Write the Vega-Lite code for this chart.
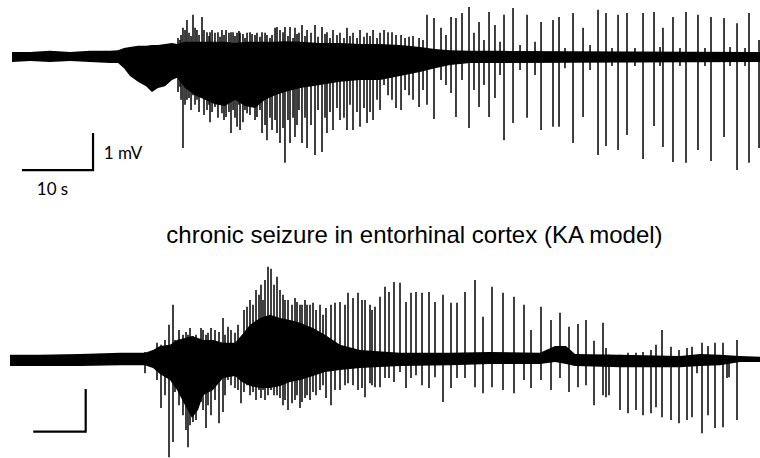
{
  "$schema": "https://vega.github.io/schema/vega-lite/v6.json",
  "background": "white",
  "padding": 0,
  "spacing": 0,
  "config": {"view": {"stroke": null}},
  "datasets": {
    "topEnv": [
      {"t":1.71,"hi":0.14,"lo":-0.14},{"t":4.29,"hi":0.14,"lo":-0.11},{"t":7.14,"hi":0.17,"lo":-0.14},{"t":10.0,"hi":0.14,"lo":-0.11},
      {"t":12.86,"hi":0.17,"lo":-0.14},{"t":15.71,"hi":0.17,"lo":-0.17},{"t":16.86,"hi":0.19,"lo":-0.17},{"t":17.71,"hi":0.25,"lo":-0.31},
      {"t":18.57,"hi":0.28,"lo":-0.53},{"t":19.71,"hi":0.31,"lo":-0.69},{"t":20.86,"hi":0.31,"lo":-0.81},{"t":21.71,"hi":0.33,"lo":-0.97},
      {"t":22.57,"hi":0.33,"lo":-0.86},{"t":23.57,"hi":0.36,"lo":-0.81},{"t":24.57,"hi":0.39,"lo":-0.64},{"t":25.29,"hi":0.36,"lo":-0.58},
      {"t":26.43,"hi":0.42,"lo":-0.86},{"t":27.86,"hi":0.42,"lo":-1.06},{"t":29.29,"hi":0.42,"lo":-1.19},{"t":30.71,"hi":0.42,"lo":-1.31},
      {"t":32.14,"hi":0.42,"lo":-1.36},{"t":33.57,"hi":0.39,"lo":-1.19},{"t":35.0,"hi":0.42,"lo":-1.36},{"t":36.43,"hi":0.42,"lo":-1.42},
      {"t":37.86,"hi":0.42,"lo":-1.19},{"t":39.29,"hi":0.42,"lo":-1.06},{"t":40.71,"hi":0.44,"lo":-0.97},{"t":42.86,"hi":0.42,"lo":-0.86},
      {"t":45.71,"hi":0.39,"lo":-0.78},{"t":48.57,"hi":0.39,"lo":-0.69},{"t":51.43,"hi":0.36,"lo":-0.64},{"t":54.29,"hi":0.36,"lo":-0.64},
      {"t":57.14,"hi":0.33,"lo":-0.53},{"t":60.0,"hi":0.28,"lo":-0.42},{"t":62.14,"hi":0.22,"lo":-0.31},{"t":64.29,"hi":0.19,"lo":-0.22},
      {"t":67.14,"hi":0.17,"lo":-0.17},{"t":71.43,"hi":0.17,"lo":-0.17},{"t":108.57,"hi":0.14,"lo":-0.14}
    ],
    "topSpk": [
      {"t":25.43,"hi":0.53,"lo":-0.97},{"t":25.86,"hi":0.61,"lo":-1.19},{"t":26.43,"hi":0.75,"lo":-1.33},{"t":27.0,"hi":0.67,"lo":-1.14},
      {"t":27.29,"hi":0.58,"lo":-1.47},{"t":27.86,"hi":0.81,"lo":-1.33},{"t":28.43,"hi":0.61,"lo":-1.53},{"t":29.14,"hi":0.75,"lo":-1.61},
      {"t":29.86,"hi":0.58,"lo":-1.33},{"t":30.29,"hi":0.75,"lo":-1.53},{"t":31.14,"hi":0.69,"lo":-1.69},{"t":31.43,"hi":0.56,"lo":-1.33},
      {"t":32.0,"hi":0.61,"lo":-1.75},{"t":32.71,"hi":0.67,"lo":-1.53},{"t":33.57,"hi":0.58,"lo":-1.69},{"t":34.14,"hi":0.72,"lo":-1.33},
      {"t":34.71,"hi":0.64,"lo":-1.81},{"t":35.0,"hi":0.53,"lo":-1.47},{"t":35.71,"hi":0.69,"lo":-1.61},{"t":36.43,"hi":0.61,"lo":-1.75},
      {"t":37.14,"hi":0.56,"lo":-1.47},{"t":37.86,"hi":0.67,"lo":-1.89},{"t":38.57,"hi":0.53,"lo":-1.69},{"t":40.43,"hi":0.69,"lo":-1.97},
      {"t":41.14,"hi":0.58,"lo":-1.75},{"t":41.86,"hi":0.53,"lo":-1.69},{"t":42.43,"hi":0.64,"lo":-1.89},{"t":43.57,"hi":0.58,"lo":-1.69},
      {"t":44.43,"hi":0.67,"lo":-1.89},{"t":45.43,"hi":0.56,"lo":-1.47},{"t":46.43,"hi":0.64,"lo":-1.69},{"t":47.14,"hi":0.53,"lo":-1.53},
      {"t":48.14,"hi":0.61,"lo":-1.42},{"t":49.14,"hi":0.53,"lo":-1.69},{"t":50.0,"hi":0.58,"lo":-1.33},{"t":51.0,"hi":0.53,"lo":-1.53},
      {"t":52.0,"hi":0.56,"lo":-1.42},{"t":52.86,"hi":0.58,"lo":-1.53},{"t":53.86,"hi":0.53,"lo":-1.19},
      {"t":25.71,"hi":0.47,"lo":-0.83},{"t":26.14,"hi":0.81,"lo":-2.53},{"t":26.71,"hi":1.03,"lo":-1.19},{"t":27.57,"hi":1.17,"lo":-1.06},
      {"t":28.14,"hi":0.75,"lo":-1.19},{"t":28.86,"hi":1.11,"lo":-0.92},{"t":29.57,"hi":0.69,"lo":-1.47},{"t":30.0,"hi":0.69,"lo":-1.81},
      {"t":30.71,"hi":0.67,"lo":-1.39},{"t":31.71,"hi":0.75,"lo":-1.56},{"t":32.29,"hi":0.75,"lo":-1.67},{"t":33.0,"hi":0.69,"lo":-2.11},
      {"t":33.29,"hi":0.69,"lo":-1.47},{"t":33.86,"hi":0.67,"lo":-1.94},{"t":34.29,"hi":0.67,"lo":-2.03},{"t":35.29,"hi":0.67,"lo":-1.56},
      {"t":36.0,"hi":0.64,"lo":-1.19},{"t":36.71,"hi":0.67,"lo":-1.67},{"t":37.43,"hi":0.69,"lo":-2.11},{"t":38.14,"hi":0.61,"lo":-2.31},
      {"t":38.86,"hi":0.61,"lo":-2.03},{"t":39.29,"hi":0.81,"lo":-1.75},{"t":39.57,"hi":0.83,"lo":-2.11},{"t":40.0,"hi":0.75,"lo":-2.39},
      {"t":40.71,"hi":0.83,"lo":-2.94},{"t":41.43,"hi":0.83,"lo":-2.39},{"t":42.14,"hi":0.81,"lo":-2.22},{"t":42.71,"hi":0.67,"lo":-1.47},
      {"t":43.14,"hi":0.89,"lo":-2.39},{"t":43.86,"hi":0.75,"lo":-2.53},{"t":45.0,"hi":0.89,"lo":-2.72},{"t":46.0,"hi":0.83,"lo":-2.64},
      {"t":46.71,"hi":0.69,"lo":-2.11},{"t":47.57,"hi":0.75,"lo":-2.03},{"t":48.57,"hi":0.67,"lo":-1.75},{"t":49.57,"hi":0.81,"lo":-2.03},
      {"t":50.43,"hi":0.67,"lo":-2.03},{"t":51.43,"hi":0.75,"lo":-1.94},{"t":52.43,"hi":0.67,"lo":-1.83},{"t":53.29,"hi":0.75,"lo":-1.75},
      {"t":54.29,"hi":0.67,"lo":-1.47},{"t":54.86,"hi":0.75,"lo":-0.78},{"t":55.43,"hi":0.69,"lo":-1.06},{"t":56.0,"hi":0.69,"lo":-1.19},
      {"t":56.57,"hi":0.61,"lo":-1.42},{"t":57.29,"hi":0.61,"lo":-1.47},{"t":57.86,"hi":0.53,"lo":-0.92},{"t":58.43,"hi":0.56,"lo":-1.06},
      {"t":59.0,"hi":0.58,"lo":-1.19},{"t":59.86,"hi":0.53,"lo":-1.39},{"t":60.43,"hi":0.47,"lo":-0.92},{"t":61.0,"hi":1.17,"lo":-1.33},
      {"t":62.0,"hi":1.08,"lo":-1.72},{"t":63.0,"hi":0.81,"lo":-0.64},{"t":63.71,"hi":0.61,"lo":-0.78},{"t":64.43,"hi":1.11,"lo":-1.0},
      {"t":65.14,"hi":1.08,"lo":-1.67},{"t":66.0,"hi":1.22,"lo":-0.64},{"t":67.0,"hi":1.39,"lo":-1.97},{"t":67.71,"hi":0.67,"lo":-0.92},
      {"t":68.43,"hi":0.97,"lo":-1.39},{"t":69.14,"hi":0.47,"lo":-0.78},{"t":69.86,"hi":1.25,"lo":-1.67},{"t":70.71,"hi":0.89,"lo":-1.14},
      {"t":71.43,"hi":0.42,"lo":-0.5},{"t":72.0,"hi":1.17,"lo":-2.31},{"t":73.29,"hi":1.36,"lo":-1.83},{"t":74.29,"hi":0.33,"lo":-0.36},
      {"t":75.29,"hi":1.17,"lo":-1.69},{"t":76.43,"hi":0.42,"lo":-0.5},{"t":77.29,"hi":0.97,"lo":-2.03},{"t":79.0,"hi":1.03,"lo":-1.94},
      {"t":79.86,"hi":1.11,"lo":-1.94},{"t":80.71,"hi":0.25,"lo":-0.31},{"t":81.86,"hi":1.22,"lo":-2.39},{"t":83.29,"hi":0.81,"lo":-1.67},
      {"t":84.29,"hi":0.33,"lo":-0.36},{"t":85.43,"hi":1.31,"lo":-2.72},{"t":86.57,"hi":1.22,"lo":-2.47},{"t":87.43,"hi":0.25,"lo":-0.25},
      {"t":88.29,"hi":1.17,"lo":-2.58},{"t":89.57,"hi":1.22,"lo":-2.17},{"t":90.71,"hi":0.25,"lo":-0.25},{"t":91.86,"hi":1.22,"lo":-2.83},
      {"t":93.43,"hi":1.25,"lo":-1.92},{"t":94.29,"hi":0.28,"lo":-0.25},{"t":94.71,"hi":0.81,"lo":-2.5},{"t":96.14,"hi":1.11,"lo":-2.92},
      {"t":97.14,"hi":0.25,"lo":-0.25},{"t":98.0,"hi":1.25,"lo":-2.94},{"t":99.71,"hi":1.17,"lo":-2.58},{"t":100.71,"hi":0.25,"lo":-0.25},
      {"t":101.57,"hi":1.11,"lo":-2.89},{"t":103.43,"hi":1.08,"lo":-2.22},{"t":104.29,"hi":0.28,"lo":-0.25},{"t":105.29,"hi":0.94,"lo":-3.14},
      {"t":106.43,"hi":0.25,"lo":-0.25},{"t":107.0,"hi":1.22,"lo":-2.94},{"t":108.43,"hi":0.47,"lo":-2.53}
    ],
    "topBar": [
      {"t":3.29,"v":-3.14,"o":1},{"t":13.29,"v":-3.14,"o":2},{"t":13.29,"v":-2.14,"o":3}
    ],
    "topText": [
      {"t":17.57,"v":-2.83,"label":"1 mV","kind":"scale"},
      {"t":7.5,"v":-3.83,"label":"10 s","kind":"scale"},
      {"t":59.21,"v":-5.16,"label":"chronic seizure in entorhinal cortex (KA model)","kind":"title"}
    ],
    "botEnv": [
      {"t":2.0,"hi":0.13,"lo":-0.15},{"t":8.0,"hi":0.13,"lo":-0.15},{"t":16.0,"hi":0.15,"lo":-0.15},{"t":24.0,"hi":0.18,"lo":-0.13},
      {"t":29.0,"hi":0.18,"lo":-0.13},{"t":30.6,"hi":0.25,"lo":-0.2},{"t":32.0,"hi":0.35,"lo":-0.35},{"t":34.0,"hi":0.38,"lo":-0.5},
      {"t":35.4,"hi":0.5,"lo":-0.75},{"t":37.0,"hi":0.55,"lo":-1.13},{"t":38.4,"hi":0.6,"lo":-1.45},{"t":39.6,"hi":0.55,"lo":-1.25},
      {"t":40.6,"hi":0.5,"lo":-0.88},{"t":42.6,"hi":0.5,"lo":-0.75},{"t":44.6,"hi":0.43,"lo":-0.45},{"t":47.0,"hi":0.43,"lo":-0.4},
      {"t":48.4,"hi":0.63,"lo":-0.55},{"t":50.0,"hi":0.88,"lo":-0.65},{"t":52.0,"hi":1.05,"lo":-0.7},{"t":54.0,"hi":1.13,"lo":-0.7},
      {"t":56.0,"hi":1.05,"lo":-0.65},{"t":58.0,"hi":1.0,"lo":-0.55},{"t":60.0,"hi":0.93,"lo":-0.5},{"t":62.6,"hi":0.8,"lo":-0.4},
      {"t":65.0,"hi":0.63,"lo":-0.3},{"t":68.0,"hi":0.38,"lo":-0.25},{"t":72.0,"hi":0.25,"lo":-0.2},{"t":80.0,"hi":0.18,"lo":-0.15},
      {"t":90.0,"hi":0.18,"lo":-0.13},{"t":98.0,"hi":0.2,"lo":-0.1},{"t":108.0,"hi":0.18,"lo":-0.1},{"t":111.0,"hi":0.35,"lo":-0.05},
      {"t":113.2,"hi":0.35,"lo":-0.1},{"t":115.0,"hi":0.15,"lo":-0.15},{"t":124.0,"hi":0.13,"lo":-0.18},{"t":136.0,"hi":0.1,"lo":-0.18},
      {"t":140.0,"hi":0.15,"lo":-0.15},{"t":144.0,"hi":0.13,"lo":-0.13},{"t":148.0,"hi":0.1,"lo":-0.05},{"t":152.0,"hi":0.08,"lo":-0.05}
    ],
    "botSpk": [
      {"t":31.4,"hi":0.43,"lo":-0.5},{"t":33.0,"hi":0.5,"lo":-0.88},{"t":35.8,"hi":0.75,"lo":-1.13},{"t":37.2,"hi":0.7,"lo":-1.75},
      {"t":38.0,"hi":0.8,"lo":-1.63},{"t":39.2,"hi":0.63,"lo":-1.5},{"t":40.6,"hi":0.75,"lo":-1.25},{"t":41.6,"hi":0.68,"lo":-1.13},
      {"t":43.0,"hi":0.75,"lo":-1.0},{"t":45.0,"hi":0.63,"lo":-0.88},{"t":46.2,"hi":0.75,"lo":-0.63},{"t":47.6,"hi":0.88,"lo":-0.75},
      {"t":48.8,"hi":1.25,"lo":-0.8},{"t":50.0,"hi":1.5,"lo":-0.88},{"t":51.2,"hi":1.75,"lo":-1.0},{"t":52.2,"hi":1.88,"lo":-0.95},
      {"t":53.0,"hi":2.0,"lo":-1.0},{"t":54.8,"hi":1.88,"lo":-0.88},{"t":56.0,"hi":1.75,"lo":-0.95},{"t":56.6,"hi":1.63,"lo":-1.13},
      {"t":57.6,"hi":1.5,"lo":-1.25},{"t":59.0,"hi":1.55,"lo":-1.0},{"t":60.0,"hi":1.38,"lo":-1.2},{"t":61.0,"hi":1.5,"lo":-0.95},
      {"t":62.0,"hi":1.38,"lo":-1.0},{"t":63.2,"hi":1.25,"lo":-0.88},{"t":65.2,"hi":1.3,"lo":-0.95},{"t":69.0,"hi":1.38,"lo":-0.63},
      {"t":72.4,"hi":1.5,"lo":-0.7},{"t":74.4,"hi":1.25,"lo":-0.63},
      {"t":29.0,"hi":0.2,"lo":-0.33},{"t":32.2,"hi":0.38,"lo":-1.2},{"t":33.8,"hi":0.88,"lo":-2.43},{"t":34.6,"hi":1.38,"lo":-2.05},
      {"t":35.0,"hi":0.5,"lo":-0.8},{"t":36.6,"hi":0.63,"lo":-1.38},{"t":37.6,"hi":0.63,"lo":-2.18},{"t":38.6,"hi":0.6,"lo":-1.55},
      {"t":40.2,"hi":0.8,"lo":-1.05},{"t":41.2,"hi":0.63,"lo":-1.7},{"t":42.2,"hi":0.8,"lo":-1.38},{"t":43.8,"hi":0.7,"lo":-1.58},
      {"t":44.6,"hi":1.05,"lo":-1.3},{"t":45.6,"hi":0.83,"lo":-0.5},{"t":47.0,"hi":0.68,"lo":-0.7},{"t":48.2,"hi":0.5,"lo":-1.08},
      {"t":49.4,"hi":1.33,"lo":-0.63},{"t":50.6,"hi":1.38,"lo":-0.8},{"t":51.8,"hi":1.63,"lo":-0.75},{"t":52.6,"hi":1.5,"lo":-0.75},
      {"t":53.6,"hi":2.33,"lo":-0.88},{"t":54.2,"hi":2.28,"lo":-0.75},{"t":55.4,"hi":2.08,"lo":-0.88},{"t":57.0,"hi":1.5,"lo":-1.0},
      {"t":58.4,"hi":1.38,"lo":-1.08},{"t":59.4,"hi":1.45,"lo":-0.88},{"t":60.4,"hi":1.38,"lo":-1.05},{"t":61.4,"hi":1.38,"lo":-0.88},
      {"t":62.6,"hi":1.43,"lo":-0.8},{"t":64.0,"hi":1.38,"lo":-0.75},{"t":64.6,"hi":1.13,"lo":-0.63},{"t":66.2,"hi":1.38,"lo":-1.13},
      {"t":67.0,"hi":1.43,"lo":-0.75},{"t":68.0,"hi":1.45,"lo":-0.75},{"t":69.6,"hi":1.68,"lo":-0.58},{"t":70.6,"hi":1.55,"lo":-0.63},
      {"t":71.6,"hi":1.68,"lo":-0.75},{"t":73.0,"hi":1.5,"lo":-0.93},{"t":74.0,"hi":1.38,"lo":-0.58},{"t":75.0,"hi":1.33,"lo":-0.68},
      {"t":76.0,"hi":1.58,"lo":-0.68},{"t":77.0,"hi":1.83,"lo":-0.45},{"t":77.8,"hi":1.7,"lo":-0.45},{"t":78.8,"hi":1.95,"lo":-0.55},
      {"t":80.0,"hi":1.93,"lo":-0.3},{"t":81.2,"hi":1.45,"lo":-0.7},{"t":82.2,"hi":1.68,"lo":-0.45},{"t":83.2,"hi":1.7,"lo":-0.38},
      {"t":84.4,"hi":1.68,"lo":-0.63},{"t":85.8,"hi":1.7,"lo":-0.7},{"t":87.0,"hi":1.45,"lo":-0.43},{"t":88.6,"hi":1.63,"lo":-1.05},
      {"t":90.2,"hi":1.43,"lo":-0.7},{"t":91.4,"hi":1.43,"lo":-0.45},{"t":93.0,"hi":1.7,"lo":-0.45},{"t":95.0,"hi":2.0,"lo":-0.68},
      {"t":96.6,"hi":1.08,"lo":-0.83},{"t":98.4,"hi":1.83,"lo":-0.68},{"t":100.6,"hi":1.68,"lo":-0.75},{"t":102.8,"hi":1.58,"lo":-0.83},
      {"t":104.8,"hi":1.38,"lo":-0.5},{"t":106.2,"hi":0.75,"lo":-0.7},{"t":108.2,"hi":1.33,"lo":-0.5},{"t":110.2,"hi":1.0,"lo":-0.75},
      {"t":112.0,"hi":1.18,"lo":-0.45},{"t":113.8,"hi":0.83,"lo":-0.8},{"t":115.6,"hi":0.9,"lo":-0.68},{"t":117.2,"hi":1.0,"lo":-0.63},
      {"t":118.8,"hi":0.48,"lo":-1.13},{"t":120.6,"hi":0.93,"lo":-0.88},{"t":121.2,"hi":0.3,"lo":-0.93},{"t":121.8,"hi":0.13,"lo":-0.88},
      {"t":124.0,"hi":0.13,"lo":-1.25},{"t":125.6,"hi":0.18,"lo":-1.33},{"t":127.2,"hi":0.18,"lo":-1.25},{"t":128.6,"hi":0.2,"lo":-1.38},
      {"t":130.2,"hi":0.25,"lo":-1.33},{"t":131.2,"hi":0.38,"lo":-1.18},{"t":132.4,"hi":0.75,"lo":-1.43},{"t":134.2,"hi":0.33,"lo":-1.5},
      {"t":135.8,"hi":0.25,"lo":-1.58},{"t":137.4,"hi":0.3,"lo":-1.5},{"t":138.4,"hi":0.33,"lo":-1.43},{"t":139.4,"hi":0.05,"lo":-0.33},
      {"t":140.4,"hi":0.43,"lo":-1.83},{"t":141.6,"hi":0.35,"lo":-1.38},{"t":143.0,"hi":0.43,"lo":-1.7},{"t":144.6,"hi":0.43,"lo":-1.68},
      {"t":145.4,"hi":0.05,"lo":-0.45},{"t":145.8,"hi":0.05,"lo":-0.43},{"t":147.4,"hi":0.5,"lo":-1.5}
    ],
    "botBar": [
      {"t":6.86,"v":-1.79,"o":1},{"t":17.14,"v":-1.79,"o":2},{"t":17.14,"v":-0.75,"o":3}
    ]
  },
  "vconcat": [
    {
      "width": 760,
      "height": 250,
      "layer": [
        {
          "data": {"name": "topEnv"},
          "mark": {"type": "area", "color": "black", "interpolate": "linear"},
          "encoding": {
            "x": {"field": "t", "type": "quantitative", "scale": {"domain": [0, 108.57], "nice": false, "zero": false}, "axis": null},
            "y": {"field": "hi", "type": "quantitative", "scale": {"domain": [-5.361, 1.583], "nice": false, "zero": false}, "axis": null},
            "y2": {"field": "lo"}
          }
        },
        {
          "data": {"name": "topSpk"},
          "mark": {"type": "rule", "color": "black", "strokeWidth": 1.5},
          "encoding": {
            "x": {"field": "t", "type": "quantitative"},
            "y": {"field": "hi", "type": "quantitative"},
            "y2": {"field": "lo"}
          }
        },
        {
          "data": {"name": "topBar"},
          "mark": {"type": "line", "color": "black", "strokeWidth": 2.2, "strokeJoin": "miter", "strokeCap": "square"},
          "encoding": {
            "x": {"field": "t", "type": "quantitative"},
            "y": {"field": "v", "type": "quantitative"},
            "order": {"field": "o"}
          }
        },
        {
          "data": {"name": "topText"},
          "transform": [{"filter": "datum.kind === 'scale'"}],
          "mark": {"type": "text", "font": "Lato", "fontSize": 17, "align": "center", "baseline": "alphabetic", "color": "black"},
          "encoding": {
            "x": {"field": "t", "type": "quantitative"},
            "y": {"field": "v", "type": "quantitative"},
            "text": {"field": "label"}
          }
        },
        {
          "data": {"name": "topText"},
          "transform": [{"filter": "datum.kind === 'title'"}],
          "mark": {"type": "text", "font": "Liberation Sans", "fontSize": 24, "align": "center", "baseline": "alphabetic", "color": "black"},
          "encoding": {
            "x": {"field": "t", "type": "quantitative"},
            "y": {"field": "v", "type": "quantitative"},
            "text": {"field": "label"}
          }
        }
      ]
    },
    {
      "width": 760,
      "height": 208,
      "layer": [
        {
          "data": {"name": "botEnv"},
          "mark": {"type": "area", "color": "black", "interpolate": "linear"},
          "encoding": {
            "x": {"field": "t", "type": "quantitative", "scale": {"domain": [0, 152], "nice": false, "zero": false}, "axis": null},
            "y": {"field": "hi", "type": "quantitative", "scale": {"domain": [-2.45, 2.75], "nice": false, "zero": false}, "axis": null},
            "y2": {"field": "lo"}
          }
        },
        {
          "data": {"name": "botSpk"},
          "mark": {"type": "rule", "color": "black", "strokeWidth": 1.5},
          "encoding": {
            "x": {"field": "t", "type": "quantitative"},
            "y": {"field": "hi", "type": "quantitative"},
            "y2": {"field": "lo"}
          }
        },
        {
          "data": {"name": "botBar"},
          "mark": {"type": "line", "color": "black", "strokeWidth": 2.2, "strokeJoin": "miter", "strokeCap": "square"},
          "encoding": {
            "x": {"field": "t", "type": "quantitative"},
            "y": {"field": "v", "type": "quantitative"},
            "order": {"field": "o"}
          }
        }
      ]
    }
  ]
}
